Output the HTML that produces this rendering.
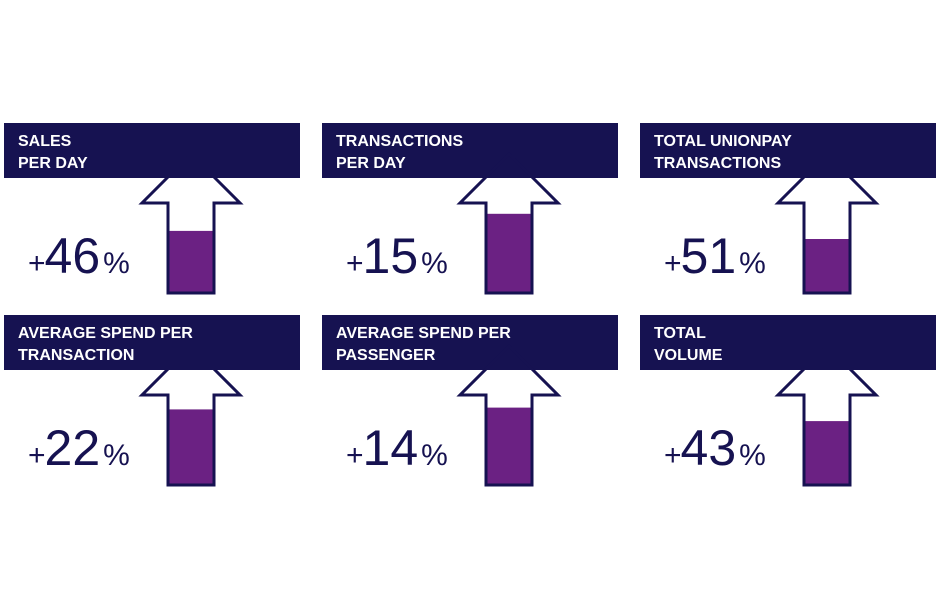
<!DOCTYPE html>
<html><head><meta charset="utf-8"><style>
html,body{margin:0;padding:0;background:#fff;width:940px;height:611px;overflow:hidden}
svg{display:block}
</style></head><body>
<svg id="chart" width="940" height="611" viewBox="0 0 940 611"></svg>
<script>
const titlesLine1 = ["SALES","TRANSACTIONS","TOTAL UNIONPAY","AVERAGE SPEND PER","AVERAGE SPEND PER","TOTAL"];
const titlesLine2 = ["PER DAY","PER DAY","TRANSACTIONS","TRANSACTION","PASSENGER","VOLUME"];
const values = [46,15,51,22,14,43];
const fillLevels = [0.69,0.88,0.60,0.84,0.86,0.71];
const svg = document.getElementById('chart');
const NS = 'http://www.w3.org/2000/svg';
function mk(tag, attrs){const e=document.createElementNS(NS,tag);for(const k in attrs)e.setAttribute(k,attrs[k]);svg.appendChild(e);return e;}
values.forEach((v,i)=>{
  const col=i%3,row=Math.floor(i/3);
  const ox=4+col*318, oy=123+row*192;
  const b=mk('rect',{x:ox,y:oy,width:296,height:55,fill:'#161251'});
  
  
  [titlesLine1[i],titlesLine2[i]].forEach((t,j)=>{
    const tx=mk('text',{x:ox+14,y:oy+23+j*22,fill:'#fff','font-family':'Liberation Sans, sans-serif','font-size':'16','font-weight':'bold'});
    tx.textContent=t;
    
    
  });
  const cx=ox+187, tipY=oy+31, wingY=oy+80, bot=oy+170, hw=49, sw=23;
  const shaftH=bot-wingY;
  const fillTop=bot-shaftH*fillLevels[i];
  const f=mk('rect',{x:cx-sw,y:fillTop,width:sw*2,height:bot-fillTop,fill:'#6b2183'});
  
  
  const pts=`${cx},${tipY} ${cx+hw},${wingY} ${cx+sw},${wingY} ${cx+sw},${bot} ${cx-sw},${bot} ${cx-sw},${wingY} ${cx-hw},${wingY}`;
  const a=mk('polygon',{points:pts,fill:'none',stroke:'#161251','stroke-width':'3','stroke-linejoin':'miter'});
  
  
  const vt=mk('text',{x:ox+24,y:oy+150,fill:'#161251','font-family':'Liberation Sans, sans-serif'});
  
  
  vt.innerHTML=`<tspan font-size="30">+</tspan><tspan font-size="50" dx="-1">${v}</tspan><tspan font-size="30" dx="3">%</tspan>`;
});
</script>
</body></html>
